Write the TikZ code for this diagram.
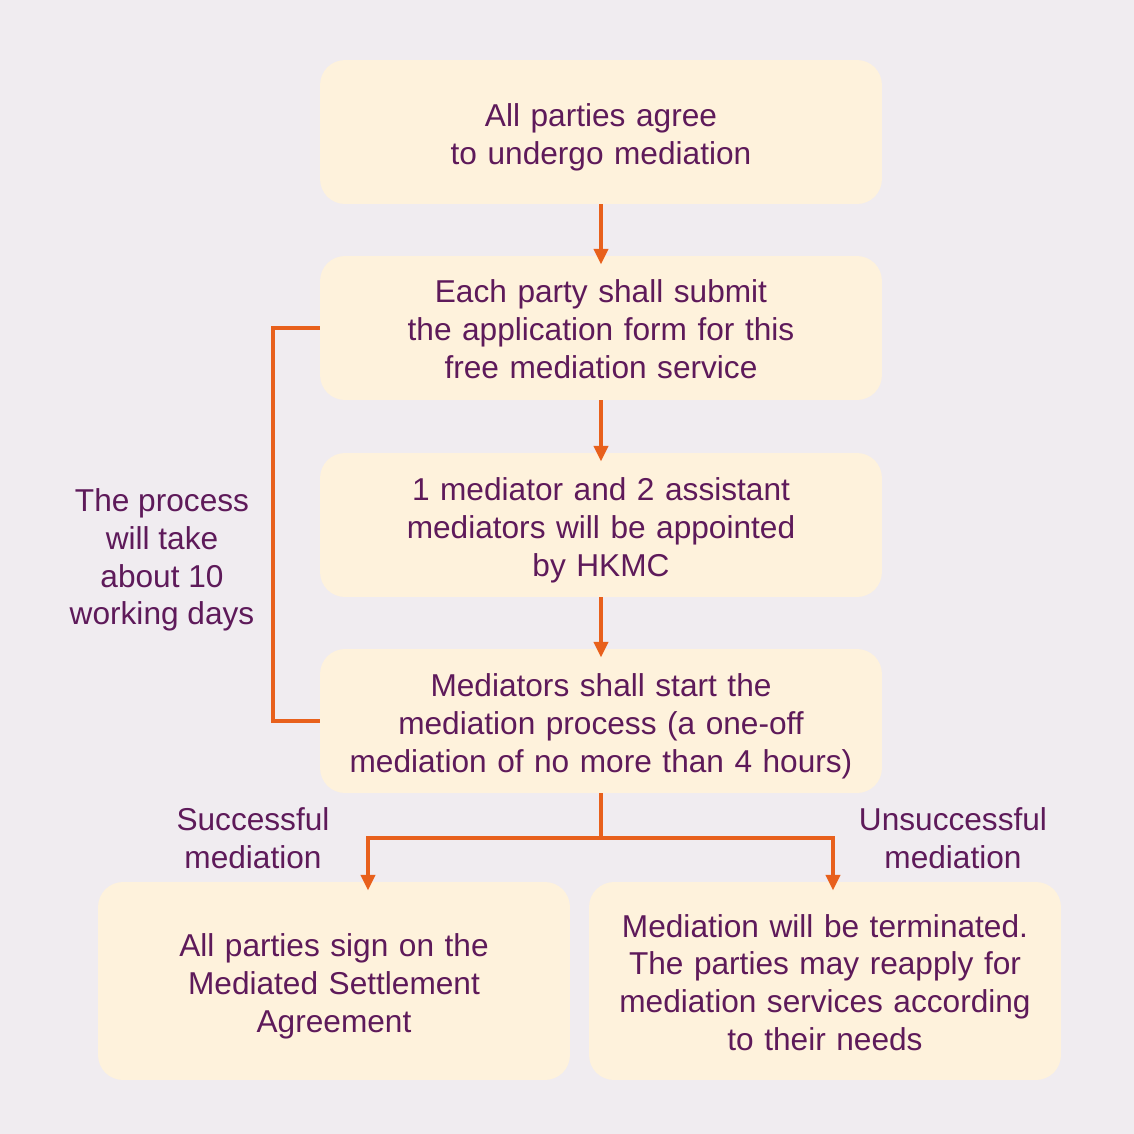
\documentclass[tikz,border=0pt]{standalone}
\usepackage{fontspec}
\setmainfont{Liberation Sans}
\usetikzlibrary{arrows.meta,positioning}
\definecolor{fond}{RGB}{240,236,240}
\definecolor{boite}{RGB}{254,242,220}
\definecolor{encre}{RGB}{94,26,90}
\definecolor{orangeflux}{RGB}{232,96,28}
\newcommand{\txt}{\fontsize{18}{21.5}\selectfont}

\begin{document}
\begin{tikzpicture}[x=0.02cm,y=-0.02cm,
    etape/.style={fill=boite,rounded corners=0.5cm,minimum width=11.24cm,
      minimum height=2.88cm,text width=10.8cm,align=center,inner sep=0pt,
      text height=19pt,text=encre,font=\txt},
    fin/.style={etape,minimum width=9.44cm,minimum height=3.96cm,text width=9.2cm},
    note/.style={text=encre,font=\txt,align=center,inner sep=0pt},
    ligne/.style={orangeflux,line width=2.3pt},
    fleche/.style={ligne,-{Triangle[width=8pt,length=9pt]},shorten >=-0.18cm}]
  \fill[fond] (0,0) rectangle (1134,1134);
  % main column
  \node[etape] (agree) at (601,132) {All parties agree\\to undergo mediation};
  \node[etape,text depth=47.5pt] (submit) at (601,328) {Each party shall submit\\the application form for this\\free mediation service};
  \node[etape] (appoint) at (601,525) {1 mediator and 2 assistant\\mediators will be appointed\\by HKMC};
  \node[etape] (start) at (601,721) {Mediators shall start the\\mediation process (a one-off\\mediation of no more than 4 hours)};
  \node[fin] (sign) at (334,981) {All parties sign on the\\Mediated Settlement\\Agreement};
  \node[fin,text depth=69pt] (terminate) at (825,981) {Mediation will be terminated.\\The parties may reapply for\\mediation services according\\to their needs};
  \draw[fleche] (agree) -- (submit);
  \draw[fleche] (submit) -- (appoint);
  \draw[fleche] (appoint) -- (start);
  % bracket on the left
  \draw[ligne] (submit.west) -- ++(-47,0) |- (start.west);
  \node[note] (process) at (162,560) {The process\\will take\\about 10\\working days};
  % branches
  \draw[ligne] (start.south) -- ++(0,45) coordinate (split);
  \draw[fleche] (split) -| ([xshift=0.68cm]sign.north);
  \draw[fleche] (split) -| ([xshift=0.16cm]terminate.north);
  \node[note] (success) at (253,838) {Successful\\mediation};
  \node[note] (failure) at (953,838) {Unsuccessful\\mediation};
\end{tikzpicture}
\end{document}
